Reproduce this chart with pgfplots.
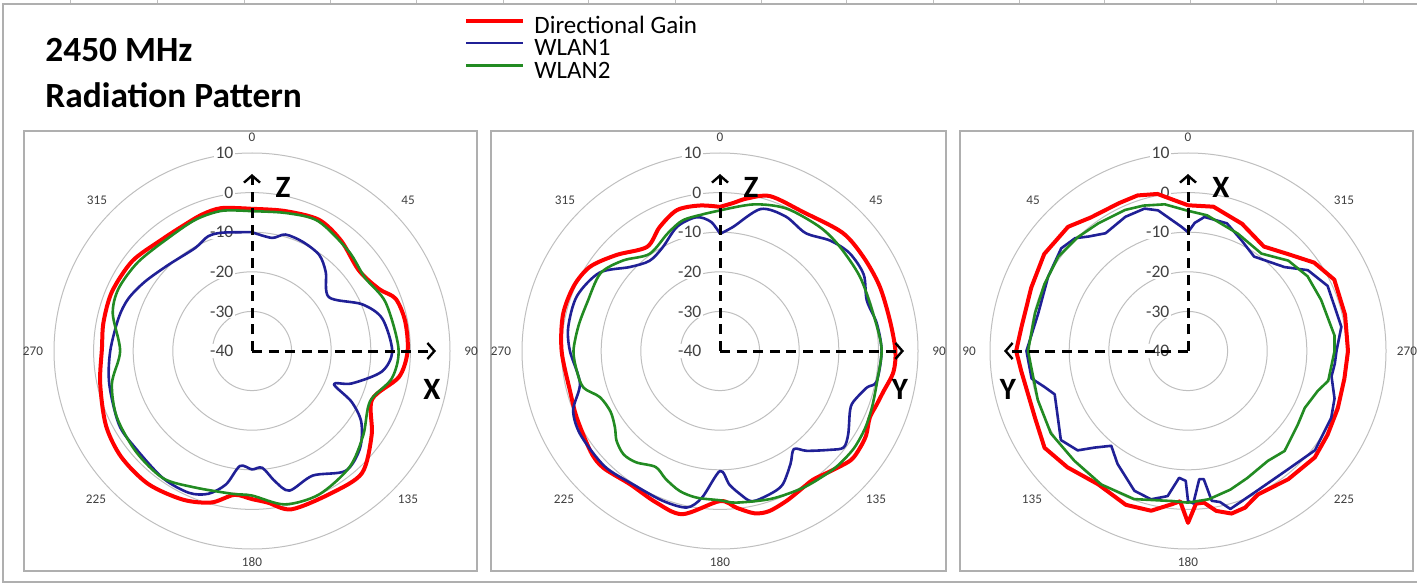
\documentclass[border=0pt]{standalone}
\usepackage{fontspec}
\setmainfont{Carlito}
\usepackage{pgfplots}
\pgfplotsset{compat=1.18}
\usepackage{pgfplotstable}
\usetikzlibrary{arrows.meta}

\definecolor{dgred}{RGB}{255,0,0}
\definecolor{wlanblue}{RGB}{32,32,150}
\definecolor{wlangreen}{RGB}{34,139,34}
\definecolor{ringgray}{RGB}{191,191,191}
\definecolor{boxgray}{RGB}{175,175,175}
\definecolor{labelgray}{RGB}{64,64,64}

% angle (deg) / gain (dB)
\pgfplotstableread{
a g
0 -4.1
13 -3.7
27 -2.8
39 -4.2
53 -6.2
64 -4.3
70 -1.4
79 -0.6
90 -0.7
100 -2.3
112 -7.3
125 -3.1
138 1.5
151 1.1
166 1.2
174 -1.5
180 -2.6
187 -3.4
195 -0.4
205 1.4
218 2.6
231 2.5
243 1.4
258 -0.8
271 -2.1
281 -1.8
293 -1.6
307 -2.2
321 -3.8
331 -3.9
340 -3.3
348 -3.1
360 -4.1
}\pOneR
\pgfplotstableread{
a g
0 -10.0
10 -11.0
16 -9.4
25 -9.6
35 -10.4
43 -12.7
55 -16.3
67 -9.8
76 -6.1
90 -4.6
99 -6.8
108 -13.5
112 -17.7
117 -11.8
123 -7.1
132 -3.3
142 -1.6
154 -5.0
165 -3.5
170 -6.6
175 -10.4
180 -10.1
186 -10.8
191 -5.7
197 -2.3
204 -0.8
215 -0.8
230 -1.7
241 -1.6
257 -3.0
270 -4.2
284 -5.3
293 -6.1
303 -7.8
316 -9.7
331 -10.3
339 -9.0
346 -9.2
360 -10.0
}\pOneB
\pgfplotstableread{
a g
0 -4.7
14 -4.1
27 -3.2
44 -4.9
57 -6.0
70 -4.1
89 -3.0
101 -4.0
113 -7.6
127 -4.8
140 -1.7
155 0.0
168 -0.4
180 -3.5
188 -3.6
203 -2.6
215 -0.8
229 -1.2
244 -2.0
257 -3.7
270 -6.7
285 -3.6
295 -2.8
308 -3.5
324 -4.5
337 -3.9
348 -3.8
360 -4.7
}\pOneG

\pgfplotstableread{
a g
0 -3.6
5 -2.5
10 -0.9
18 1.1
31 0.9
46 3.0
57 3.3
68 3.5
80 3.6
90 4.3
97 4.1
104 2.5
109 1.8
114 1.4
120 2.6
125 3.0
130 3.0
138 1.1
144 0.1
149 0.4
156 1.4
163 2.3
168 1.9
174 -0.2
180 -2.1
193 2.3
203 1.5
214 0.6
225 1.7
232 1.4
245 -0.1
255 -0.8
270 0.0
283 0.7
294 0.4
303 -0.9
313 -4.4
325 -7.9
334 -5.2
343 -2.8
352 -2.9
360 -3.6
}\pTwoR
\pgfplotstableread{
a g
0 -10.4
6 -8.5
16 -2.7
26 -2.2
36 -3.2
45 -0.6
53 1.0
62 1.1
71 -0.8
80 0.2
90 0.8
101 0.3
104 -1.8
111 -4.0
115 -3.8
123 -1.4
128 -0.4
132 -2.7
139 -6.6
143 -9.0
148 -6.4
155 -2.7
161 -1.7
168 -1.2
172 -3.5
176 -6.2
180 -9.7
187 -2.7
192 0.4
201 0.5
213 0.2
225 1.2
239 1.1
248 0.0
257 -3.7
270 -2.1
279 -1.2
291 -1.3
303 -3.7
313 -8.9
322 -11.1
331 -10.1
341 -6.8
350 -5.7
356 -7.3
360 -10.4
}\pTwoB
\pgfplotstableread{
a g
0 -4.5
13 -2.0
25 -0.3
39 0.2
49 0.1
62 0.0
76 -0.2
89 0.8
100 0.4
110 0.9
118 1.5
126 1.8
134 1.5
140 1.0
149 0.4
161 -0.5
174 -1.5
180 -2.3
189 -2.5
196 -3.2
203 -4.9
209 -6.5
217 -4.8
223 -4.3
229 -5.4
234 -7.2
241 -8.4
249 -7.5
255 -4.3
262 -3.5
270 -3.0
280 -3.7
290 -4.3
303 -4.0
313 -6.5
324 -9.7
336 -7.5
344 -5.7
353 -5.2
360 -4.5
}\pTwoG

\pgfplotstableread{
a g
0 -3.2
6 -1.5
11 0.4
18 1.3
25 1.2
36 1.7
44 3.6
56 3.8
68 2.7
82 2.5
90 3.4
97 2.4
114 2.2
124 3.7
134 2.3
146 0.6
158 1.9
167 1.4
174 -1.1
177 -2.0
180 3.4
183 -1.4
186 -1.5
190 1.0
195 2.5
200 2.1
206 0.3
218 1.1
230 1.8
239 1.1
249 0.5
260 0.1
270 0.4
283 0.7
296 1.1
305 -1.1
314 -4.8
324 -7.4
337 -5.1
350 -3.0
360 -3.2
}\pThreeR
\pgfplotstableread{
a g
0 -10.0
3 -8.6
7 -6.7
12 -3.7
17 -2.4
25 -2.6
35 -3.7
41 -1.7
45 0.3
51 1.2
62 0.0
76 -1.0
90 0.8
100 0.1
104 -2.6
108 -4.6
117 -3.1
125 -0.8
132 -2.5
136 -6.1
141 -9.2
148 -6.4
159 -2.2
166 -1.4
172 -3.0
176 -7.9
179 -7.2
180 -2.1
182 -1.5
185 -7.5
187 -7.4
189 -1.7
192 -1.0
195 1.3
205 -0.5
220 -0.9
232 0.7
245 -0.1
252 -1.1
260 -3.2
265 -2.8
270 -2.5
279 -0.8
295 -1.1
304 -3.5
311 -7.7
325 -10.9
334 -9.0
343 -6.3
353 -5.9
357 -7.6
360 -10.0
}\pThreeB
\pgfplotstableread{
a g
0 -4.6
9 -2.5
17 -1.6
24 -1.0
35 -0.6
44 0.0
54 0.5
65 0.0
76 -0.2
90 0.4
108 -0.1
121 0.4
134 -0.1
147 0.2
160 -0.2
174 -1.9
180 -1.7
188 -2.2
197 -3.4
205 -4.6
216 -5.7
224 -4.9
236 -6.6
244 -7.2
253 -5.7
258 -3.8
270 -3.0
276 -2.8
291 -4.0
302 -4.4
312 -5.9
323 -9.2
337 -7.8
352 -5.4
360 -4.6
}\pThreeG

\pgfplotsset{
  % gain -40..10 dB drawn as radius 0..50, 0 deg at top
  table/cw/.style={x expr={(\thisrow{g}+40)*sin(\thisrow{a})}, y expr={(\thisrow{g}+40)*cos(\thisrow{a})}},
  table/ccw/.style={x expr={-(\thisrow{g}+40)*sin(\thisrow{a})}, y expr={(\thisrow{g}+40)*cos(\thisrow{a})}},
  panel/.style={hide axis, clip=false, x=1.98pt, y=1.98pt,
    xmin=-55, xmax=55, ymin=-55, ymax=55, anchor=center},
  dg/.style={color=dgred, line width=2pt, line join=round},
  w1/.style={color=wlanblue, line width=1.3pt, line join=round},
  w2/.style={color=wlangreen, line width=1.3pt, line join=round},
}

\begin{document}
\begin{tikzpicture}
\begin{scope}[x=0.5pt, y=-0.5pt, shift={(0pt,292pt)}]
  \path[use as bounding box] (0,0) rectangle (1417,584);
  \foreach \c in {70,157,244,330,416,503,588,675,761,846,933,1019,1104,1190,1276,1363}
    \draw[ringgray, line width=0.5pt] (\c,0) -- (\c,4);
  \draw[boxgray, line width=0.8pt] (3,4) rectangle (1425,582);
  \draw[boxgray, line width=0.6pt] (24,131) rectangle (477,571);
  \draw[boxgray, line width=0.6pt] (491,131) rectangle (946,571);
  \draw[boxgray, line width=0.6pt] (960,131) rectangle (1413,571);
  \foreach \c in {252,720,1188} {
    \foreach \r in {39.6,79.2,118.8,158.4,198}
      \draw[ringgray, line width=0.5pt] (\c,351) circle[radius=\r];
    \foreach \v/\y in {10/153,0/192.6,-10/232.2,-20/271.8,-30/311.4,-40/351}
      \node[anchor=east, font=\fontsize{8.8}{10}\selectfont, text=labelgray,
            fill=white, inner sep=0.6pt] at (\c-17,\y) {\v};
  }
  \foreach \d in {0,468} {
    \foreach \t/\px/\py in {0/252/137,45/408/200,90/471/351,135/408/499,180/252/562,225/96/499,270/33/351,315/97/200}
      \node[font=\fontsize{6.6}{8}\selectfont, text=labelgray, inner sep=0pt] at (\px+\d,\py) {\t};
  }
  \foreach \t/\px/\py in {0/252/137,315/408/200,270/471/351,225/408/499,180/252/562,135/96/499,90/33/351,45/97/200}
    \node[font=\fontsize{6.6}{8}\selectfont, text=labelgray, inner sep=0pt] at (\px+936,\py) {\t};
\end{scope}

\begin{axis}[panel, at={(126pt,116.5pt)},
  legend cell align=left,
  legend image code/.code={\path[draw=none, fill=none] (0pt,-0.7pt) rectangle (34pt,7.3pt);
    \draw[#1] (0pt,3.3pt) -- (28.5pt,3.3pt);},
  legend style={at={(0.973,1.287)}, anchor=north west, draw=none, fill=none,
    font=\fontsize{12.5}{13}\selectfont, row sep=-1.5pt,
    nodes={inner sep=0pt, text height=8.5pt, text depth=2.5pt}}]
\addplot[dg, smooth, tension=0.5] table[cw] {\pOneR};
\addlegendentry{Directional Gain}
\addplot[w1, smooth, tension=0.5] table[cw] {\pOneB};
\addlegendentry{WLAN1}
\addplot[w2, smooth, tension=0.5] table[cw] {\pOneG};
\addlegendentry{WLAN2}
\end{axis}

\begin{axis}[panel, at={(360pt,116.5pt)}]
\addplot[dg, smooth, tension=0.5] table[cw] {\pTwoR};
\addplot[w1, smooth, tension=0.5] table[cw] {\pTwoB};
\addplot[w2, smooth, tension=0.5] table[cw] {\pTwoG};
\end{axis}

\begin{axis}[panel, at={(594pt,116.5pt)}]
\addplot[dg] table[ccw] {\pThreeR};
\addplot[w1] table[ccw] {\pThreeB};
\addplot[w2] table[ccw] {\pThreeG};
\end{axis}

\begin{scope}[x=0.5pt, y=-0.5pt, shift={(0pt,292pt)}]
  \tikzset{arr/.style={black, line width=1.5pt, dash pattern=on 5pt off 3.3pt,
      -{Straight Barb[length=3.5pt, width=8pt, line width=1.2pt]}}}
  \draw[arr] (252,351) -- (252,174);
  \draw[arr] (252,351) -- (436,351);
  \draw[arr] (720,351) -- (720,174);
  \draw[arr] (720,351) -- (904,351);
  \draw[arr] (1188,351) -- (1188,174);
  \draw[arr] (1188,351) -- (1004,351);
  \tikzset{ax/.style={font=\fontsize{15.5}{17}\selectfont\bfseries, inner sep=0pt}}
  \node[ax] at (283,187) {Z};
  \node[ax] at (432,389) {X};
  \node[ax] at (751,187) {Z};
  \node[ax] at (900,389) {Y};
  \node[ax] at (1221,187) {X};
  \node[ax] at (1008,389) {Y};
  \node[anchor=base west, font=\fontsize{17.7}{20}\selectfont\bfseries, inner sep=0pt] at (45,62) {2450 MHz};
  \node[anchor=base west, font=\fontsize{17.7}{20}\selectfont\bfseries, inner sep=0pt] at (45,108) {Radiation Pattern};
\end{scope}
\end{tikzpicture}
\end{document}
